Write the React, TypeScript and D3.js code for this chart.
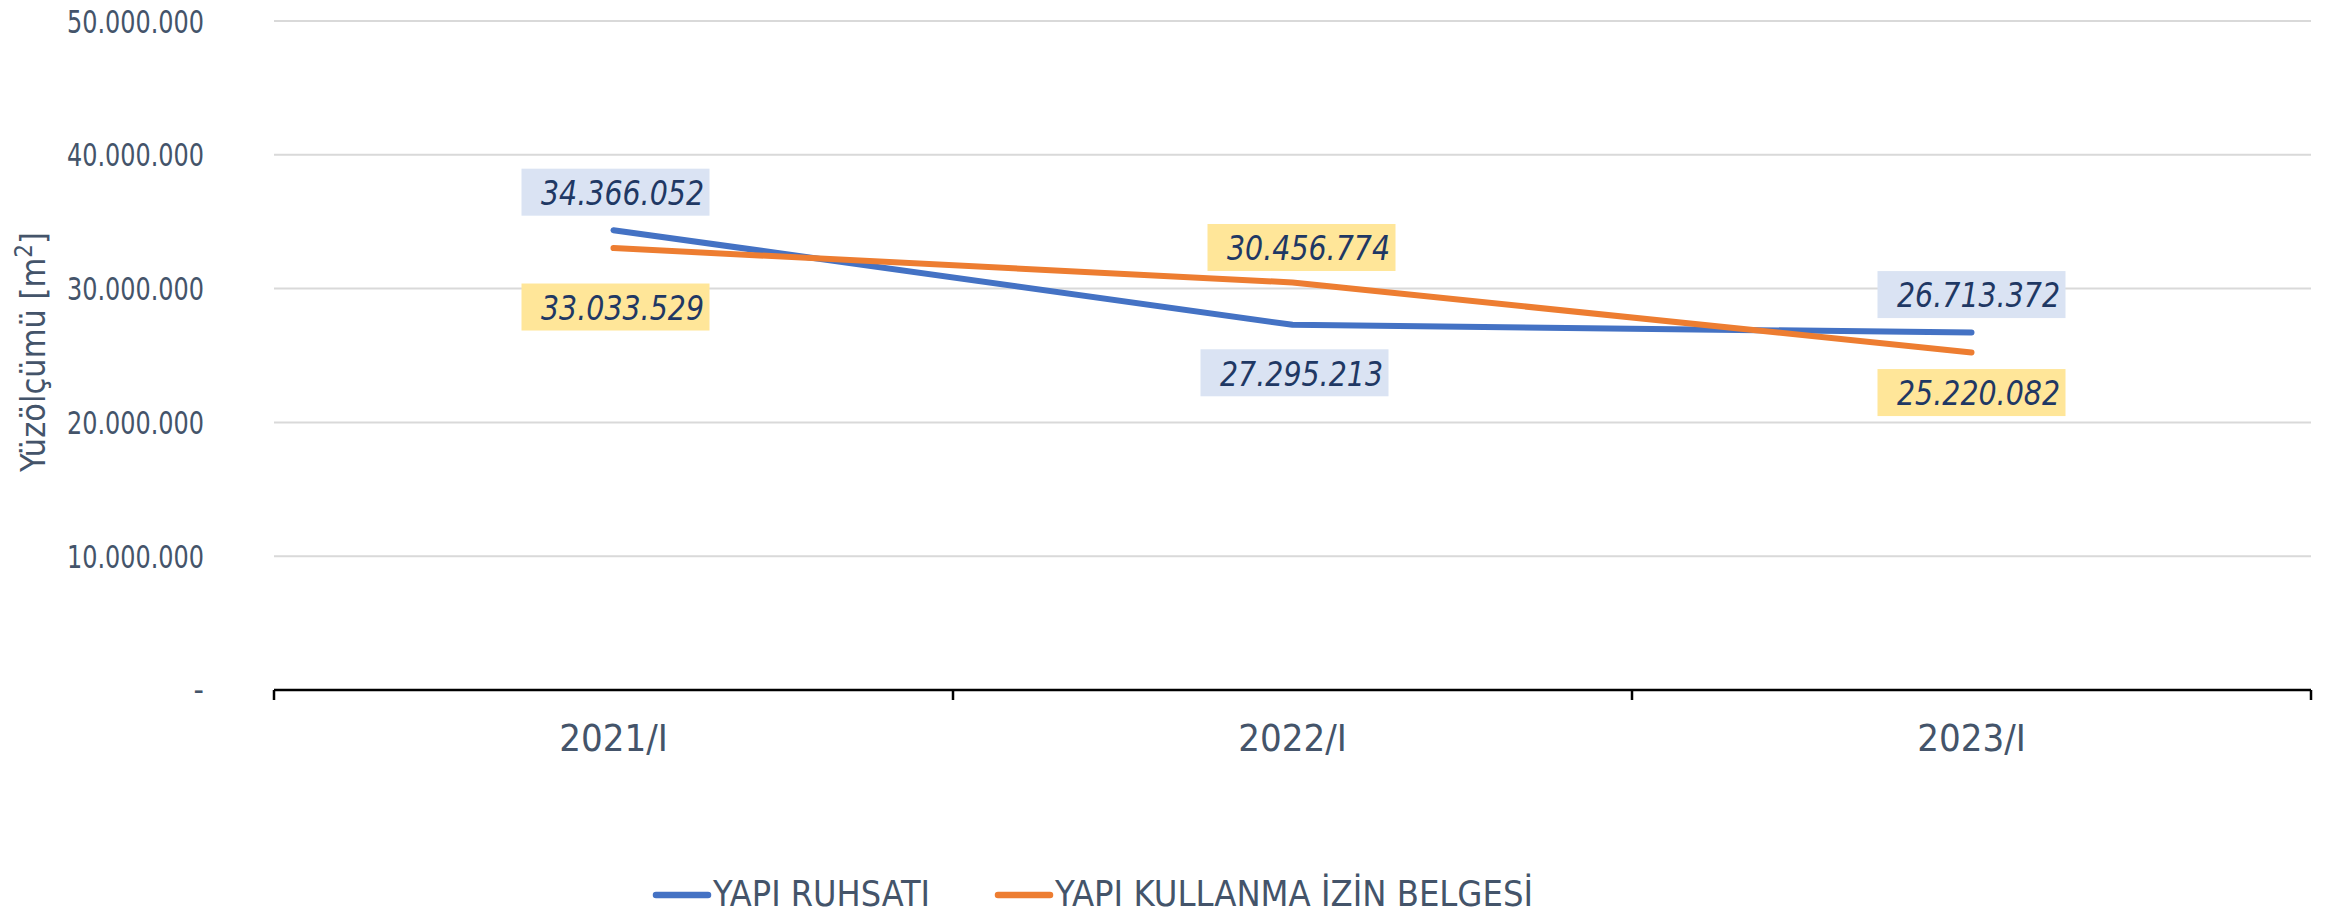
import React from "react";
import * as d3 from "d3";

const categories = ["2021/I", "2022/I", "2023/I"];
const seriesNames = ["YAPI RUHSATI", "YAPI KULLANMA İZİN BELGESİ"];
const ruhsatValues = [34366052, 27295213, 26713372];
const kullanmaValues = [33033529, 30456774, 25220082];
const yTicks = [0, 10000000, 20000000, 30000000, 40000000, 50000000];
const yTitle = "Yüzölçümü [m";
const yTitleSup = "2";

const W = 2333;
const H = 914;
const colors = ["#4472C4", "#ED7D31"];
const boxColors = ["#DAE3F3", "#FFE699"];
const textColor = "#44546A";
const labelColor = "#1F3864";
const FONT = "'DejaVu Sans Condensed', 'DejaVu Sans', sans-serif";

// label offsets (dx, dy of box center relative to point)
const labelOffsets = [
  [[2, -38], [2, 48], [0, -38]],
  [[2, 59], [9, -35], [0, 40]],
];
const legendTextLengths = [217, 478];
const legendX = [653, 995];

const locale = d3.formatLocale({ thousands: ".", decimal: ",", grouping: [3], currency: ["", ""] });
const fmt = locale.format(",d");

export default function App() {
  const x = d3.scaleBand().domain(categories).range([274, 2311]);
  const y = d3.scaleLinear().domain([0, 50000000]).range([690, 21]);
  const series = [ruhsatValues, kullanmaValues];
  const line = d3
    .line<number>()
    .x((_, i) => (x(categories[i]) as number) + x.bandwidth() / 2)
    .y((d) => y(d));
  const boundaries = [...categories.map((c) => x(c) as number), x.range()[1]];

  return (
    <svg width={W} height={H} style={{ position: "absolute", left: 0, top: 0, background: "#fff" }} fontFamily={FONT}>
      {yTicks.map((t) =>
        t > 0 ? (
          <line key={"g" + t} x1={274} x2={2311} y1={y(t)} y2={y(t)} stroke="#D9D9D9" strokeWidth={2} />
        ) : null
      )}
      {yTicks.map((t) =>
        t === 0 ? (
          <text key={"t" + t} x={204} y={y(t)} dy="0.35em" textAnchor="end" fontSize={32} fill={textColor}>
            -
          </text>
        ) : (
          <text key={"t" + t} x={204} y={y(t)} dy="0.36em" textAnchor="end" fontSize={32} fill={textColor} textLength={137} lengthAdjust="spacingAndGlyphs">
            {fmt(t)}
          </text>
        )
      )}
      <line x1={274} x2={2311} y1={y(0)} y2={y(0)} stroke="#000" strokeWidth={2.5} />
      {boundaries.map((b, i) => (
        <line key={"b" + i} x1={b} x2={b} y1={y(0)} y2={y(0) + 10} stroke="#000" strokeWidth={2.5} />
      ))}
      {categories.map((c) => (
        <text key={c} x={(x(c) as number) + x.bandwidth() / 2} y={737} dy="0.36em" textAnchor="middle" fontSize={38} fill={textColor}>
          {c}
        </text>
      ))}
      <text transform="translate(33,352) rotate(-90)" textAnchor="middle" dy="0.35em" fontSize={34} fill={textColor}>
        {yTitle}
        <tspan fontSize={24} dy="-0.55em">{yTitleSup}</tspan>
        <tspan dy="0.4em">]</tspan>
      </text>
      {series.map((s, si) => (
        <path key={"l" + si} d={line(s) as string} fill="none" stroke={colors[si]} strokeWidth={6} strokeLinecap="round" strokeLinejoin="round" />
      ))}
      {series.map((s, si) =>
        s.map((v, i) => {
          const cx = (x(categories[i]) as number) + x.bandwidth() / 2 + labelOffsets[si][i][0];
          const cy = y(v) + labelOffsets[si][i][1];
          return (
            <g key={"lab" + si + i}>
              <rect x={cx - 94} y={cy - 23.5} width={188} height={47} fill={boxColors[si]} />
              <text x={cx + 7} y={cy + 1} dy="0.36em" textAnchor="middle" fontSize={33} fontStyle="italic" fill={labelColor} textLength={163} lengthAdjust="spacingAndGlyphs">
                {fmt(v)}
              </text>
            </g>
          );
        })
      )}
      {seriesNames.map((n, i) => (
        <g key={"leg" + i}>
          <line x1={legendX[i] + 3} x2={legendX[i] + 55} y1={895} y2={895} stroke={colors[i]} strokeWidth={6.5} strokeLinecap="round" />
          <text x={legendX[i] + 60} y={906} fontSize={35} fill={textColor} textLength={legendTextLengths[i]} lengthAdjust="spacingAndGlyphs">
            {n}
          </text>
        </g>
      ))}
    </svg>
  );
}
